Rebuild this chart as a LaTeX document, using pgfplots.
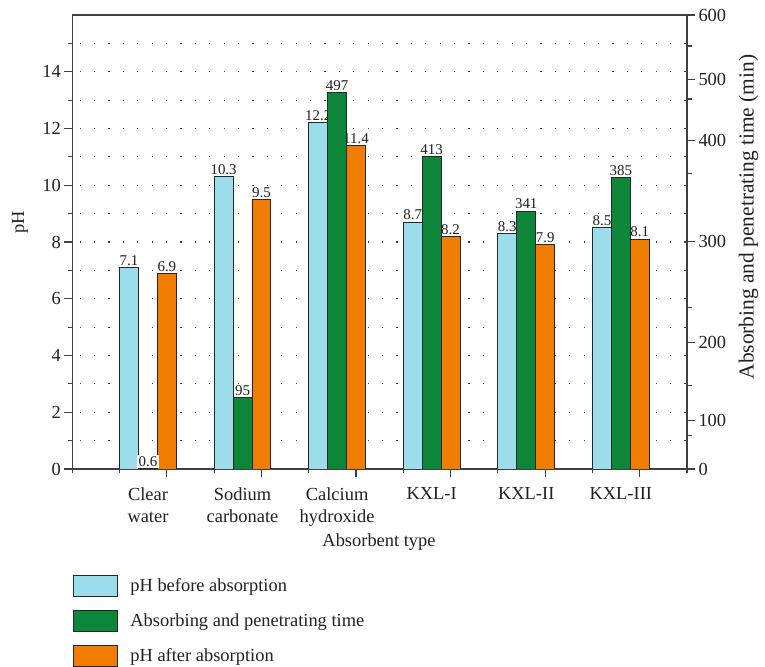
\documentclass[border=0pt]{standalone}
\usepackage{fontspec}
\setmainfont{Liberation Serif}
\usepackage{pgfplots}
\pgfplotsset{compat=1.18}
\definecolor{cblue}{HTML}{9BDDEA}
\definecolor{cgreen}{HTML}{0E8639}
\definecolor{corange}{HTML}{F07C00}
\definecolor{axgray}{HTML}{404040}
\definecolor{txt}{HTML}{231F20}
\pgfplotsset{
  /pgf/number format/assume math mode=true,
  boxleg/.style={legend image code/.code={\draw[##1,draw=black!85,line width=0.9bp] (0bp,-10.5bp) rectangle (44bp,10.5bp);}},
  common/.style={
    at={(72.3bp,198bp)}, anchor=south west, scale only axis,
    width=614.7bp, height=454bp,
    xmin=0, xmax=6.5,
    tick align=outside, major tick length=8bp, minor tick length=4.5bp,
    axis line style={axgray, line width=1.1bp},
    every tick/.style={axgray, line width=1.1bp},
    tick label style={font=\fontsize{18.5}{22}\selectfont, text=txt},
    label style={font=\fontsize{18.5}{22}\selectfont, text=txt},
  },
  barsty/.style={ybar, bar width=0.2, bar shift=0pt, draw=black!85, line width=0.9bp},
  lblsty/.style={nodes near coords, nodes near coords style={font=\fontsize{15}{17}\selectfont, text=txt, fill=white, inner sep=1.5bp, anchor=south}},
}
\begin{document}
\begin{tikzpicture}
\useasboundingbox (0,0) rectangle (765bp,667bp);
\begin{axis}[common,
  ymin=0, ymax=16,
  xtick={1,2,3,4,5,6},
  xticklabels={{Clear\\water},{Sodium\\carbonate},{Calcium\\hydroxide},{KXL-I},{KXL-II},{KXL-III}},
  xticklabel style={align=center, xshift=-18.9bp, yshift=-7bp},
  minor xtick={0,0.5,1.5,2.5,3.5,4.5,5.5,6.5},
  ytick={0,2,...,14}, minor ytick={1,3,...,15},
  xtick pos=left, ytick pos=left,
  ymajorgrids, yminorgrids,
  major grid style={black!75, line width=1.2bp, dash pattern=on 1.2bp off 13.2bp, dash phase=7.2bp},
  minor grid style={black!75, line width=1.2bp, dash pattern=on 1.2bp off 13.2bp, dash phase=7.2bp},
  xlabel={Absorbent type},
  xlabel style={at={(axis description cs:0.499,-0.161)}, anchor=center},
  ylabel={pH},
  ylabel style={at={(axis description cs:-0.085,0.544)}, anchor=center},
]
\addplot[barsty, lblsty, fill=cblue] coordinates {(0.6,7.1) (1.6,10.3) (2.6,12.2) (3.6,8.7) (4.6,8.3) (5.6,8.5)};
\addplot[barsty, lblsty, fill=corange] coordinates {(1,6.9) (2,9.5) (3,11.4) (4,8.2) (5,7.9) (6,8.1)};
\end{axis}
\begin{axis}[common,
  ymin=0, ymax=600,
  axis x line=none, axis y line*=right,
  ytick={0,64,167,301,434,515,600},
  yticklabels={0,100,200,300,400,500,600},
  minor ytick={44,110,214,390,489,559},
  ylabel={Absorbing and penetrating time (min)},
  ylabel style={at={(axis description cs:1.1,0.555)}, anchor=center, font=\fontsize{21.5}{25}\selectfont},
  legend style={at={(axis description cs:0,-0.2335)}, anchor=north west, draw=none, fill=none,
    inner sep=0pt, row sep=13bp, font=\fontsize{18.5}{22}\selectfont, text=txt,
    nodes={inner sep=0pt, inner xsep=13bp}},
  legend cell align=left,
]
\addlegendimage{boxleg, fill=cblue}
\addlegendentry{pH before absorption}
\addplot[barsty, lblsty, fill=cgreen, boxleg] coordinates {(0.8,0.6) (1.8,95) (2.8,497) (3.8,413) (4.8,341) (5.8,385)};
\addlegendentry{Absorbing and penetrating time}
\addlegendimage{boxleg, fill=corange}
\addlegendentry{pH after absorption}
\end{axis}
\end{tikzpicture}
\end{document}
